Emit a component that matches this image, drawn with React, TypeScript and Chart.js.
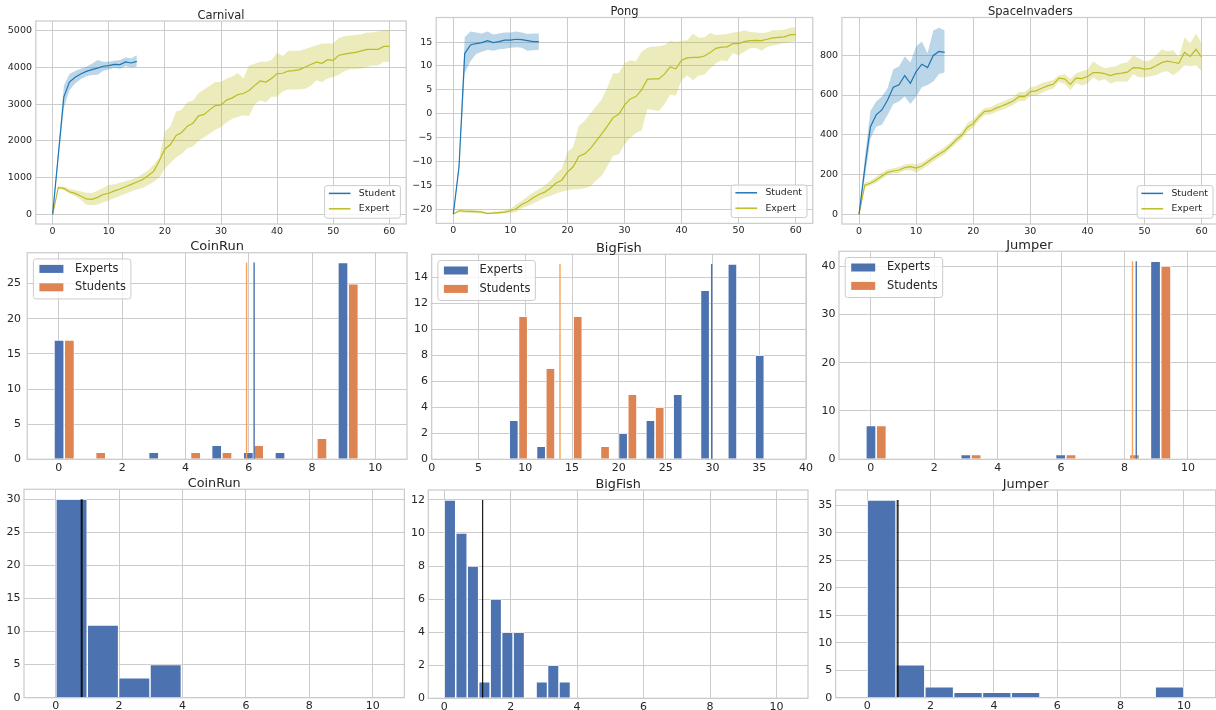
import React, { useEffect, useRef } from 'react';
import { Chart, registerables } from 'chart.js';

Chart.register(...registerables);

const FONT = '"DejaVu Sans", "Liberation Sans", sans-serif';
const INK = '#262626';
const GRID = '#cccccc';
const STUDENT_LINE = '#1f77b4';
const EXPERT_LINE = '#bcbd22';
const STUDENT_BAND = 'rgba(31,119,180,0.3)';
const EXPERT_BAND = 'rgba(188,189,34,0.3)';
const EXPERTS_BAR = '#4c72b0';
const STUDENTS_BAR = '#dd8452';
const EXPERTS_MEAN = '#4c72b0';
const STUDENTS_MEAN = '#f7a35c';

// ---------------- top row: learning curves ----------------
const topXTicks = [0, 10, 20, 30, 40, 50, 60];

const carnivalYTicks = [0, 1000, 2000, 3000, 4000, 5000];
const carnivalStudentMean = [0, 1600, 3200, 3600, 3730, 3820, 3890, 3940, 3980, 4030, 4050, 4080, 4075, 4150, 4120, 4165];
const carnivalStudentUpper = [0, 1750, 3500, 3820, 3900, 3960, 4020, 4100, 4200, 4150, 4150, 4180, 4200, 4270, 4250, 4330];
const carnivalStudentLower = [0, 1450, 2900, 3380, 3560, 3680, 3760, 3790, 3800, 3900, 3950, 3990, 3960, 4030, 4000, 4020];
const carnivalExpertMean = [0, 725, 706, 616, 570, 498, 420, 410, 462, 540, 575, 640, 690, 750, 815, 880, 940, 1050, 1170, 1450, 1780, 1900, 2150, 2230, 2400, 2480, 2680, 2720, 2850, 2960, 2980, 3110, 3170, 3260, 3290, 3370, 3510, 3630, 3600, 3700, 3830, 3840, 3900, 3910, 3940, 4010, 4080, 4140, 4110, 4210, 4190, 4330, 4360, 4390, 4410, 4450, 4490, 4490, 4490, 4570, 4570];
const carnivalExpertUpper = [0, 760, 760, 700, 660, 620, 590, 580, 640, 720, 800, 820, 860, 900, 950, 1000, 1100, 1200, 1350, 1550, 2250, 2400, 2800, 2850, 3050, 3100, 3300, 3400, 3500, 3600, 3600, 3700, 3750, 3850, 3700, 4050, 4100, 4150, 4150, 4200, 4400, 4300, 4450, 4450, 4450, 4500, 4550, 4600, 4650, 4650, 4650, 4800, 4850, 4870, 4880, 4900, 4950, 4950, 4980, 5010, 5010];
const carnivalExpertLower = [0, 690, 660, 560, 500, 400, 260, 250, 270, 330, 380, 440, 500, 560, 620, 680, 720, 800, 880, 1000, 1250, 1400, 1550, 1650, 1800, 1850, 2000, 2100, 2200, 2300, 2380, 2500, 2600, 2650, 2700, 2680, 3000, 3100, 3050, 3200, 3200, 3350, 3400, 3400, 3400, 3420, 3500, 3650, 3600, 3700, 3740, 3800, 3900, 3950, 3950, 3970, 4020, 4050, 4050, 4150, 4140];

const pongYTicks = [-20, -15, -10, -5, 0, 5, 10, 15];
const pongStudentMean = [-21, -11.1, 12.6, 14.4, 14.7, 14.9, 15.3, 14.9, 15.1, 15.4, 15.4, 15.6, 15.5, 15.3, 15.1, 15.1];
const pongStudentUpper = [-21, -10, 16, 17.2, 17, 16.8, 17.2, 16.6, 16.8, 17, 17, 17.2, 17, 16.7, 16.8, 16.8];
const pongStudentLower = [-21, -12, 8.5, 11, 12.5, 13, 13.4, 13.2, 13.5, 13.6, 13.8, 13.9, 13.8, 13.2, 13.3, 13.4];
const pongExpertMean = [-21, -20.3, -20.4, -20.45, -20.5, -20.6, -20.9, -20.8, -20.7, -20.6, -20.3, -19.9, -19.0, -18.4, -17.6, -16.9, -16.4, -15.6, -14.5, -13.9, -12.2, -11.1, -8.9, -8.4, -7.3, -5.8, -4.2, -2.6, -0.8, -0.1, 1.8, 3.1, 3.6, 5.0, 7.2, 7.3, 7.3, 8.3, 9.8, 9.4, 11.2, 11.7, 11.8, 11.8, 12.1, 12.8, 13.7, 13.95, 14.0, 14.7, 14.7, 15.1, 15.3, 15.35, 15.3, 15.6, 15.9, 16.0, 16.1, 16.5, 16.6];
const pongExpertUpper = [-21, -20.0, -20.1, -20.1, -20.2, -20.3, -20.6, -20.5, -20.4, -20.2, -19.9, -19.0, -18.2, -17.3, -16.5, -15.8, -15.0, -14.0, -12.5, -11.5, -8.0, -7.0, -2.5, -1.5, 0.0, 1.5, 3.0, 5.5, 8.5, 8.5, 10.6, 11.2, 11.0, 13.0, 13.8, 14.1, 14.1, 14.4, 15.3, 15.0, 15.3, 15.4, 16.8, 15.9, 16.0, 16.9, 16.5, 16.6, 16.7, 17.0, 17.1, 17.5, 17.1, 17.0, 16.9, 17.0, 17.5, 17.5, 17.6, 18.0, 18.1];
const pongExpertLower = [-21, -20.6, -20.7, -20.8, -20.8, -20.9, -21.0, -21.0, -21.0, -20.9, -20.7, -20.6, -19.8, -19.3, -18.8, -18.2, -17.6, -17.2, -16.7, -16.3, -16.0, -15.8, -15.8, -15.6, -15.2, -14.0, -13.0, -11.0, -8.8, -8.5, -6.5, -5.0, -4.0, -3.5, 1.0, 0.8, 0.6, 2.0, 4.0, 3.8, 7.0, 8.0, 7.0, 8.0, 8.2, 9.4, 10.5, 11.2, 11.0, 12.7, 12.2, 13.0, 13.7, 13.8, 13.2, 14.0, 14.3, 14.5, 14.8, 15.0, 15.2];

const siYTicks = [0, 200, 400, 600, 800];
const siStudentMean = [0, 230, 441, 500, 525, 575, 639, 651, 698, 659, 718, 755, 738, 799, 819, 815];
const siStudentUpper = [0, 280, 520, 567, 592, 634, 730, 743, 794, 763, 844, 869, 810, 925, 938, 924];
const siStudentLower = [0, 180, 380, 441, 450, 500, 555, 567, 592, 555, 592, 639, 651, 668, 706, 713];
const siExpertMean = [0, 146, 156, 173, 193, 211, 218, 223, 235, 240, 232, 243, 263, 283, 302, 320, 345, 374, 399, 438, 456, 491, 518, 520, 534, 545, 557, 570, 592, 592, 617, 621, 634, 646, 654, 685, 681, 653, 685, 683, 693, 713, 713, 708, 698, 706, 710, 715, 738, 737, 730, 733, 747, 763, 770, 765, 760, 814, 794, 830, 790];
const siExpertUpper = [0, 160, 170, 190, 210, 225, 232, 238, 250, 255, 250, 260, 280, 300, 318, 338, 362, 392, 418, 460, 478, 510, 535, 538, 553, 565, 577, 590, 615, 615, 638, 645, 660, 668, 675, 700, 705, 680, 710, 720, 728, 770, 750, 735, 740, 745, 760, 765, 800, 785, 770, 775, 800, 830, 820, 825, 790, 890, 860, 910, 860];
const siExpertLower = [0, 135, 145, 158, 178, 198, 205, 208, 220, 222, 210, 225, 245, 265, 285, 302, 328, 355, 380, 415, 435, 470, 500, 502, 515, 525, 537, 550, 570, 570, 595, 597, 610, 624, 632, 665, 657, 625, 660, 648, 658, 690, 670, 680, 658, 668, 668, 668, 705, 690, 690, 695, 700, 715, 720, 700, 720, 750, 745, 750, 720];

// ---------------- middle row: experts vs students histograms ----------------
const histXTicks = [0, 2, 4, 6, 8, 10];
const bigFishXTicks = [0, 5, 10, 15, 20, 25, 30, 35, 40];

const coinRunMidYTicks = [0, 5, 10, 15, 20, 25];
const coinRunMidBins = [0.17, 1.16, 2.16, 3.16, 4.16, 5.15, 6.15, 7.15, 8.15, 9.14];
const coinRunMidExperts = [17, 0, 0, 1, 0, 2, 1, 1, 0, 28];
const coinRunMidStudents = [17, 1, 0, 0, 1, 1, 2, 0, 3, 25];
const coinRunMidMeans = { experts: 6.17, students: 5.93, top: 28 };

const bigFishMidYTicks = [0, 2, 4, 6, 8, 10, 12, 14];
const bigFishMidBins = [9.27, 12.19, 15.11, 18.03, 20.95, 23.87, 26.79, 29.71, 32.63, 35.55];
const bigFishMidExperts = [3, 1, 0, 0, 2, 3, 5, 13, 15, 8];
const bigFishMidStudents = [11, 7, 11, 1, 5, 4, 0, 0, 0, 0];
const bigFishMidMeans = { experts: 29.92, students: 13.71, top: 15 };

const jumperMidYTicks = [0, 10, 20, 30, 40];
const jumperMidBins = [0.17, 1.16, 2.16, 3.16, 4.16, 5.15, 6.15, 7.15, 8.15, 9.14];
const jumperMidExperts = [7, 0, 0, 1, 0, 0, 1, 0, 0, 41];
const jumperMidStudents = [7, 0, 0, 1, 0, 0, 1, 0, 1, 40];
const jumperMidMeans = { experts: 8.37, students: 8.25, top: 41 };

// ---------------- bottom row: single histograms ----------------
const coinRunBotYTicks = [0, 5, 10, 15, 20, 25, 30];
const coinRunBotBins = [0.5, 1.49, 2.48, 3.47];
const coinRunBotCounts = [30, 11, 3, 5];
const coinRunBotMean = { x: 0.82, top: 30 };

const bigFishBotYTicks = [0, 2, 4, 6, 8, 10, 12];
const bigFishBotBins = [0.1727, 0.5182, 0.8636, 1.2091, 1.5545, 1.9, 2.2455, 2.5909, 2.9364, 3.2818, 3.6273];
const bigFishBotCounts = [12, 10, 8, 1, 6, 4, 4, 0, 1, 2, 1];
const bigFishBotMean = { x: 1.155, top: 12 };

const jumperBotYTicks = [0, 5, 10, 15, 20, 25, 30, 35];
const jumperBotBins = [0.4545, 1.3636, 2.2727, 3.1818, 4.0909, 5.0, 5.9091, 6.8182, 7.7273, 8.6364, 9.5455];
const jumperBotCounts = [36, 6, 2, 1, 1, 1, 0, 0, 0, 0, 2];
const jumperBotMean = { x: 0.96, top: 36 };

// ---------------- helpers ----------------
const fmt = (v: number) => (v < 0 ? '\u2212' + Math.abs(v) : String(v));
const pts = (ys: number[]) => ys.map((y, i) => ({ x: i, y }));

type Rect = { L: number; T: number; R: number; B: number };

function geom(r: Rect) {
  const cx = Math.max(0, Math.floor(r.L - 46));
  const cy = Math.max(0, Math.floor(r.T - 22));
  const cw = Math.ceil(r.R + 16) - cx;
  const ch = Math.ceil(r.B + 20) - cy;
  return { cx, cy, cw, ch, padL: r.L - cx, padT: r.T - cy, padR: cx + cw - r.R, padB: cy + ch - r.B };
}

const TOP_LEGEND = { corner: 'lr', font: 9.3, inset: 5.8, padL: 4.2, padR: 5, handleLen: 21.7, handleH: 0, gap: 8.3, rowH: 15.4, boxH: 32.6, firstRow: 7.8 };
const MID_LEGEND = { corner: 'ul', font: 11.4, inset: 6.2, padL: 6, padR: 5, handleLen: 24, handleH: 8, gap: 11.7, rowH: 18.4, boxH: 40, firstRow: 10 };

function lineDatasets(sM: number[], sU: number[], sL: number[], eM: number[], eU: number[], eL: number[]) {
  const base = { pointRadius: 0, borderWidth: 1.2, fill: false, tension: 0 };
  const band = { pointRadius: 0, borderWidth: 0, borderColor: 'rgba(0,0,0,0)', tension: 0 };
  return [
    { ...base, label: 'Student', data: pts(sM), borderColor: STUDENT_LINE, order: 0 },
    { ...base, label: 'Expert', data: pts(eM), borderColor: EXPERT_LINE, order: 0 },
    { ...band, data: pts(sU), fill: '+1', backgroundColor: STUDENT_BAND, order: 1 },
    { ...band, data: pts(sL), fill: false, order: 1 },
    { ...band, data: pts(eU), fill: '+1', backgroundColor: EXPERT_BAND, order: 1 },
    { ...band, data: pts(eL), fill: false, order: 1 },
  ];
}

const barBase = {
  type: 'bar', grouped: false, barPercentage: 1, categoryPercentage: 1,
  borderColor: '#ffffff', borderWidth: 0.8, borderSkipped: 'start', inflateAmount: 0, order: 1,
};

function vline(x: number, top: number, color: string, width: number) {
  return { type: 'line', data: [{ x, y: 0 }, { x, y: top }], borderColor: color, borderWidth: width, pointRadius: 0, fill: false, order: 0 };
}

function pairDatasets(bins: number[], ex: number[], st: number[], half: number, means: any, meanWidth: number) {
  const e = bins.map((c, i) => ({ x: c - half, y: ex[i] })).filter((p) => p.y > 0);
  const s = bins.map((c, i) => ({ x: c + half, y: st[i] })).filter((p) => p.y > 0);
  return [
    vline(means.students, means.top, STUDENTS_MEAN, meanWidth),
    vline(means.experts, means.top, EXPERTS_MEAN, meanWidth),
    { ...barBase, label: 'Experts', data: e, backgroundColor: EXPERTS_BAR },
    { ...barBase, label: 'Students', data: s, backgroundColor: STUDENTS_BAR },
  ];
}

function singleDatasets(bins: number[], counts: number[], mean: any, meanColor: string, meanWidth: number) {
  const d = bins.map((c, i) => ({ x: c, y: counts[i] })).filter((p) => p.y > 0);
  return [
    vline(mean.x, mean.top, meanColor, meanWidth),
    { ...barBase, borderWidth: 0.75, data: d, backgroundColor: EXPERTS_BAR },
  ];
}

function drawLegend(ctx: any, a: any, L: any, items: any[]) {
  ctx.save();
  ctx.font = `${L.font}px ${FONT}`;
  const textW = Math.max(...items.map((it) => ctx.measureText(it.label).width));
  const w = L.padL + L.handleLen + L.gap + textW + L.padR;
  const h = L.boxH;
  const x = L.corner === 'lr' ? a.right - L.inset - w : a.left + L.inset;
  const y = L.corner === 'lr' ? a.bottom - L.inset - h : a.top + L.inset;
  const r = 2.5;
  ctx.beginPath();
  ctx.moveTo(x + r, y);
  ctx.lineTo(x + w - r, y);
  ctx.arcTo(x + w, y, x + w, y + r, r);
  ctx.lineTo(x + w, y + h - r);
  ctx.arcTo(x + w, y + h, x + w - r, y + h, r);
  ctx.lineTo(x + r, y + h);
  ctx.arcTo(x, y + h, x, y + h - r, r);
  ctx.lineTo(x, y + r);
  ctx.arcTo(x, y, x + r, y, r);
  ctx.closePath();
  ctx.fillStyle = 'rgba(255,255,255,0.8)';
  ctx.fill();
  ctx.strokeStyle = '#cccccc';
  ctx.lineWidth = 1;
  ctx.stroke();
  items.forEach((it, i) => {
    const cy = y + L.firstRow + i * L.rowH;
    const hx = x + L.padL;
    if (it.kind === 'line') {
      ctx.strokeStyle = it.color;
      ctx.lineWidth = 1.5;
      ctx.beginPath();
      ctx.moveTo(hx, cy);
      ctx.lineTo(hx + L.handleLen, cy);
      ctx.stroke();
    } else {
      ctx.fillStyle = it.color;
      ctx.fillRect(hx, cy - L.handleH / 2, L.handleLen, L.handleH);
    }
    ctx.fillStyle = INK;
    ctx.textAlign = 'left';
    ctx.textBaseline = 'middle';
    ctx.fillText(it.label, hx + L.handleLen + L.gap, cy);
  });
  ctx.restore();
}

function makeConfig(spec: any, g: any) {
  const tickFont = { family: FONT, size: spec.tickSize };
  const decor = {
    id: 'decor',
    afterDatasetsDraw(chart: any) {
      const { ctx, chartArea: a } = chart;
      ctx.save();
      ctx.strokeStyle = GRID;
      ctx.lineWidth = 1.25;
      ctx.strokeRect(a.left, a.top, a.right - a.left, a.bottom - a.top);
      ctx.restore();
    },
    afterDraw(chart: any) {
      const { ctx, chartArea: a } = chart;
      ctx.save();
      ctx.font = `${spec.titleSize}px ${FONT}`;
      ctx.fillStyle = INK;
      ctx.textAlign = 'center';
      ctx.textBaseline = 'alphabetic';
      ctx.fillText(spec.title, (a.left + a.right) / 2, a.top - spec.titleGap);
      ctx.restore();
      if (spec.legend) drawLegend(ctx, a, spec.legend, spec.legendItems);
    },
  };
  return {
    type: spec.type,
    data: { datasets: spec.datasets },
    plugins: [decor],
    options: {
      responsive: false,
      animation: false,
      devicePixelRatio: 1,
      events: [],
      layout: { padding: { left: 0, top: g.padT, right: g.padR, bottom: 0 } },
      plugins: { legend: { display: false }, title: { display: false }, tooltip: { enabled: false } },
      scales: {
        x: {
          type: 'linear', min: spec.xMin, max: spec.xMax, offset: false,
          afterBuildTicks: (s: any) => { s.ticks = spec.xTicks.map((v: number) => ({ value: v })); },
          afterFit: (s: any) => { s.height = g.padB; },
          grid: { color: GRID, lineWidth: 1, drawTicks: false, offset: false },
          border: { display: false },
          ticks: { color: INK, font: tickFont, padding: spec.xPad, maxRotation: 0, autoSkip: false, callback: (v: any) => fmt(v) },
        },
        y: {
          type: 'linear', min: spec.yMin, max: spec.yMax,
          afterBuildTicks: (s: any) => { s.ticks = spec.yTicks.map((v: number) => ({ value: v })); },
          afterFit: (s: any) => { s.width = g.padL; },
          grid: { color: GRID, lineWidth: 1, drawTicks: false },
          border: { display: false },
          ticks: { color: INK, font: tickFont, padding: spec.yPad, autoSkip: false, callback: (v: any) => fmt(v) },
        },
      },
    },
  };
}

const topLegendItems = [
  { label: 'Student', color: STUDENT_LINE, kind: 'line' },
  { label: 'Expert', color: EXPERT_LINE, kind: 'line' },
];
const midLegendItems = [
  { label: 'Experts', color: EXPERTS_BAR, kind: 'rect' },
  { label: 'Students', color: STUDENTS_BAR, kind: 'rect' },
];

const topCommon = { type: 'line', titleSize: 11.5, titleGap: 2.2, tickSize: 9.5, xPad: 1.6, yPad: 3.8, xMin: -3, xMax: 63, xTicks: topXTicks, legend: TOP_LEGEND, legendItems: topLegendItems };
const midCommon = { type: 'bar', titleSize: 13, titleGap: 2.4, tickSize: 11, xPad: 2.5, yPad: 3.6, legend: MID_LEGEND, legendItems: midLegendItems };
const botCommon = { type: 'bar', titleSize: 12.8, titleGap: 2.1, tickSize: 11, xPad: 1.8, yPad: 3.4, xTicks: histXTicks };

const SPECS: any[] = [
  { ...topCommon, key: 'carnival', title: 'Carnival', rect: { L: 35.8, T: 21, R: 406.2, B: 224 }, yMin: -262, yMax: 5262, yTicks: carnivalYTicks,
    datasets: lineDatasets(carnivalStudentMean, carnivalStudentUpper, carnivalStudentLower, carnivalExpertMean, carnivalExpertUpper, carnivalExpertLower) },
  { ...topCommon, key: 'pong', title: 'Pong', rect: { L: 436.2, T: 17.5, R: 812.8, B: 223.4 }, yMin: -22.95, yMax: 20.15, yTicks: pongYTicks,
    datasets: lineDatasets(pongStudentMean, pongStudentUpper, pongStudentLower, pongExpertMean, pongExpertUpper, pongExpertLower) },
  { ...topCommon, key: 'si', title: 'SpaceInvaders', rect: { L: 841.9, T: 17.5, R: 1218.8, B: 224 }, yMin: -48.8, yMax: 990, yTicks: siYTicks,
    datasets: lineDatasets(siStudentMean, siStudentUpper, siStudentLower, siExpertMean, siExpertUpper, siExpertLower) },

  { ...midCommon, key: 'coinrunMid', title: 'CoinRun', rect: { L: 27.2, T: 252.7, R: 407, B: 459.3 }, xMin: -1, xMax: 11, xTicks: histXTicks, yMin: 0, yMax: 29.4, yTicks: coinRunMidYTicks, yPad: 6.3,
    datasets: pairDatasets(coinRunMidBins, coinRunMidExperts, coinRunMidStudents, 0.1625, coinRunMidMeans, 1.4) },
  { ...midCommon, key: 'bigfishMid', title: 'BigFish', rect: { L: 431.7, T: 254.3, R: 806, B: 459.3 }, xMin: 0, xMax: 40, xTicks: bigFishXTicks, yMin: 0, yMax: 15.75, yTicks: bigFishMidYTicks,
    datasets: pairDatasets(bigFishMidBins, bigFishMidExperts, bigFishMidStudents, 0.495, bigFishMidMeans, 1.4) },
  { ...midCommon, key: 'jumperMid', title: 'Jumper', rect: { L: 839, T: 251.3, R: 1219.7, B: 459.3 }, xMin: -1, xMax: 11, xTicks: histXTicks, yMin: 0, yMax: 43.05, yTicks: jumperMidYTicks,
    datasets: pairDatasets(jumperMidBins, jumperMidExperts, jumperMidStudents, 0.1625, jumperMidMeans, 1.4) },

  { ...botCommon, key: 'coinrunBot', title: 'CoinRun', rect: { L: 24, T: 489.3, R: 404.4, B: 697.7 }, xMin: -1, xMax: 11, yMin: 0, yMax: 31.5, yTicks: coinRunBotYTicks,
    datasets: singleDatasets(coinRunBotBins, coinRunBotCounts, coinRunBotMean, 'rgba(0,0,0,0.85)', 2) },
  { ...botCommon, key: 'bigfishBot', title: 'BigFish', rect: { L: 428.3, T: 490, R: 808, B: 698.3 }, xMin: -0.48, xMax: 10.95, yMin: 0, yMax: 12.6, yTicks: bigFishBotYTicks,
    datasets: singleDatasets(bigFishBotBins, bigFishBotCounts, bigFishBotMean, 'rgba(0,0,0,0.9)', 1.2) },
  { ...botCommon, key: 'jumperBot', title: 'Jumper', rect: { L: 835.6, T: 490, R: 1215.6, B: 697.7 }, xMin: -1, xMax: 11, yMin: 0, yMax: 37.8, yTicks: jumperBotYTicks,
    datasets: singleDatasets(jumperBotBins, jumperBotCounts, jumperBotMean, 'rgba(0,0,0,0.8)', 2) },
];

function Panel({ spec }: { spec: any }) {
  const ref = useRef<HTMLCanvasElement | null>(null);
  const g = geom(spec.rect);
  useEffect(() => {
    if (!ref.current) return;
    const chart = new Chart(ref.current, makeConfig(spec, g) as any);
    return () => chart.destroy();
  }, []);
  return (
    <canvas
      ref={ref}
      width={g.cw}
      height={g.ch}
      style={{ position: 'absolute', left: g.cx, top: g.cy, width: g.cw, height: g.ch }}
    />
  );
}

export default function App() {
  return (
    <div style={{ position: 'fixed', left: 0, top: 0, width: 1216, height: 710, overflow: 'hidden', background: '#ffffff' }}>
      {SPECS.map((s) => (
        <Panel key={s.key} spec={s} />
      ))}
    </div>
  );
}
